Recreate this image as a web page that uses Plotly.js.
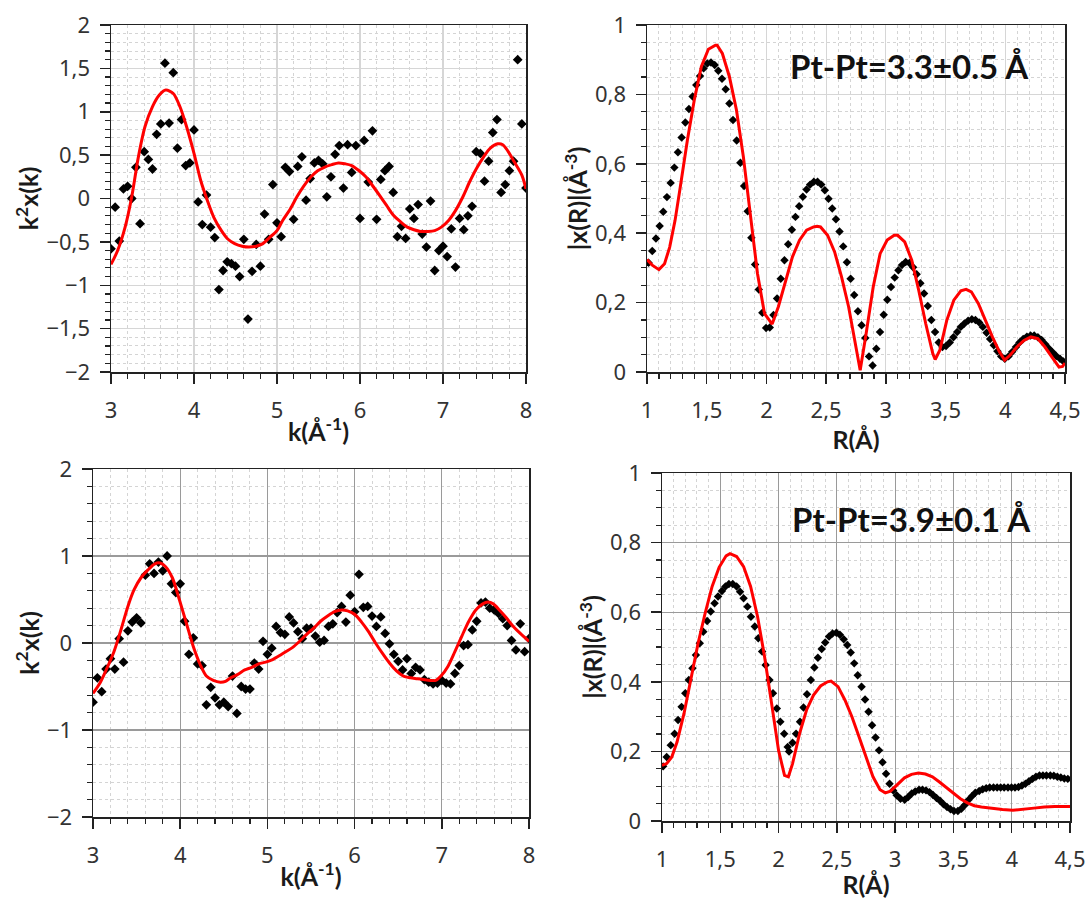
<!DOCTYPE html>
<html>
<head>
<meta charset="utf-8">
<script src="https://cdn.plot.ly/plotly-3.0.1.min.js"></script>
<style>
  html, body { margin: 0; padding: 0; background: #ffffff; }
  #chart { width: 1090px; height: 899px; }
</style>
</head>
<body>
<div id="chart"></div>
<script>
// ---------- Panel 1 (top-left): k-space, sample A ----------
const p1DataK = [3.00,3.05,3.10,3.15,3.20,3.25,3.30,3.35,3.40,3.45,3.50,3.55,3.60,3.65,3.70,3.75,3.80,3.85,3.90,3.95,
  4.00,4.05,4.10,4.15,4.20,4.25,4.30,4.35,4.40,4.45,4.50,4.55,4.60,4.65,4.70,4.75,4.80,4.85,4.90,4.95,
  5.00,5.05,5.10,5.15,5.20,5.25,5.30,5.35,5.40,5.45,5.50,5.55,5.60,5.65,5.70,5.75,5.80,5.85,5.90,5.95,
  6.00,6.05,6.10,6.15,6.20,6.25,6.30,6.35,6.40,6.45,6.50,6.55,6.60,6.65,6.70,6.75,6.80,6.85,6.90,6.95,
  7.00,7.05,7.10,7.15,7.20,7.25,7.30,7.35,7.40,7.45,7.50,7.55,7.60,7.65,7.70,7.75,7.80,7.85,7.90,7.95,8.00];
const p1DataY = [-0.58,-0.10,-0.49,0.11,0.14,0.00,0.36,-0.29,0.54,0.45,0.34,0.74,0.86,1.56,0.87,1.45,0.58,0.91,0.38,0.41,
  0.79,-0.04,-0.30,0.04,-0.33,-0.45,-1.05,-0.83,-0.73,-0.75,-0.78,-0.90,-0.47,-1.39,-0.84,-0.53,-0.78,-0.18,-0.47,0.16,
  -0.28,-0.44,0.36,0.31,-0.24,0.37,0.48,-0.02,0.23,0.41,0.44,0.40,0.02,0.25,0.51,0.61,0.12,0.62,0.30,0.61,
  -0.23,0.67,0.19,0.78,-0.24,0.22,0.32,0.37,0.07,-0.44,-0.32,-0.46,-0.12,-0.23,-0.07,-0.41,-0.56,-0.03,-0.83,-0.60,
  -0.55,-0.67,-0.35,-0.79,-0.23,-0.36,-0.20,-0.09,0.54,0.52,0.20,0.43,0.76,0.91,0.07,0.16,0.32,0.43,1.60,0.86,0.12];
const p1FitK = [3.00,3.08,3.17,3.25,3.33,3.41,3.50,3.58,3.66,3.75,3.83,3.91,4.00,4.08,4.16,4.24,4.33,4.41,4.49,4.58,
  4.66,4.75,4.83,4.91,5.00,5.07,5.16,5.24,5.32,5.41,5.49,5.57,5.66,5.74,5.82,5.90,5.99,6.07,6.15,6.24,
  6.32,6.40,6.49,6.57,6.65,6.73,6.82,6.90,6.98,7.07,7.15,7.24,7.32,7.40,7.49,7.57,7.66,7.72,7.78,7.86,7.95,8.00];
const p1FitY = [-0.76,-0.60,-0.33,0.02,0.48,0.83,1.06,1.19,1.25,1.21,1.06,0.83,0.52,0.21,-0.02,-0.22,-0.37,-0.47,-0.52,-0.55,
  -0.56,-0.55,-0.52,-0.45,-0.37,-0.25,-0.12,0.02,0.14,0.25,0.32,0.36,0.39,0.41,0.40,0.38,0.32,0.25,0.15,0.03,
  -0.08,-0.19,-0.27,-0.33,-0.36,-0.38,-0.38,-0.37,-0.33,-0.25,-0.14,0.02,0.19,0.34,0.48,0.58,0.63,0.62,0.55,0.42,0.27,0.11];

// ---------- Panel 2 (top-right): R-space, sample A ----------
const p2DataR = [1.013,1.044,1.075,1.106,1.136,1.167,1.198,1.229,1.259,1.290,1.321,1.351,1.382,1.413,1.444,1.474,1.505,1.536,1.567,1.597,
  1.628,1.659,1.690,1.720,1.751,1.782,1.813,1.843,1.874,1.905,1.936,1.966,1.997,2.028,2.059,2.089,2.120,2.151,2.182,2.213,
  2.243,2.274,2.305,2.336,2.366,2.397,2.428,2.459,2.489,2.520,2.551,2.582,2.612,2.643,2.674,2.705,2.735,2.766,2.797,2.828,
  2.859,2.889,2.920,2.951,2.982,3.012,3.043,3.074,3.105,3.135,3.166,3.197,3.228,3.258,3.289,3.320,3.351,3.381,3.412,3.443,
  3.474,3.504,3.535,3.566,3.597,3.627,3.658,3.689,3.720,3.750,3.781,3.812,3.843,3.873,3.904,3.935,3.966,3.996,4.027,4.058,
  4.089,4.119,4.150,4.181,4.212,4.242,4.273,4.304,4.335,4.365,4.396,4.427,4.458,4.488];
const p2DataV = [0.315,0.349,0.385,0.421,0.462,0.504,0.545,0.589,0.633,0.676,0.719,0.758,0.794,0.827,0.853,0.875,0.889,0.892,0.885,0.868,
  0.845,0.815,0.774,0.726,0.667,0.603,0.536,0.463,0.387,0.310,0.238,0.171,0.127,0.128,0.164,0.212,0.269,0.322,0.368,0.410,
  0.447,0.478,0.505,0.526,0.540,0.548,0.548,0.540,0.524,0.499,0.471,0.440,0.405,0.362,0.316,0.269,0.222,0.175,0.135,0.098,
  0.045,0.019,0.067,0.115,0.165,0.208,0.245,0.272,0.293,0.308,0.317,0.314,0.302,0.282,0.256,0.226,0.190,0.150,0.115,0.085,
  0.072,0.075,0.085,0.100,0.115,0.130,0.140,0.148,0.152,0.150,0.143,0.130,0.113,0.095,0.077,0.060,0.045,0.038,0.045,0.058,
  0.072,0.085,0.095,0.102,0.105,0.105,0.100,0.092,0.080,0.068,0.057,0.046,0.038,0.030];
const p2FitR = [1.000,1.044,1.100,1.147,1.190,1.235,1.279,1.338,1.396,1.455,1.514,1.573,1.587,1.631,1.690,1.749,1.807,1.866,1.925,1.984,
  2.048,2.100,2.160,2.218,2.277,2.336,2.395,2.424,2.453,2.512,2.571,2.629,2.688,2.747,2.785,2.835,2.894,2.952,3.011,3.070,
  3.099,3.158,3.217,3.275,3.334,3.393,3.413,3.452,3.510,3.569,3.628,3.672,3.716,3.775,3.833,3.892,3.951,3.995,4.039,4.097,
  4.156,4.215,4.273,4.332,4.391,4.450,4.480,4.500];
const p2FitV = [0.324,0.308,0.295,0.312,0.360,0.437,0.534,0.668,0.784,0.880,0.930,0.942,0.942,0.918,0.851,0.755,0.620,0.457,0.284,0.168,
  0.138,0.188,0.264,0.332,0.380,0.409,0.418,0.420,0.418,0.394,0.346,0.274,0.188,0.082,0.005,0.111,0.245,0.341,0.380,0.394,
  0.394,0.375,0.322,0.236,0.139,0.053,0.036,0.063,0.149,0.207,0.234,0.238,0.231,0.197,0.149,0.101,0.058,0.034,0.048,0.072,
  0.091,0.101,0.096,0.072,0.043,0.014,0.016,0.026];

// ---------- Panel 3 (bottom-left): k-space, sample B ----------
const p3DataK = p1DataK.slice();
const p3DataY = [-0.68,-0.40,-0.56,-0.30,-0.18,-0.30,0.05,-0.22,0.14,0.24,0.29,0.23,0.78,0.91,0.80,0.93,0.83,1.00,0.68,0.58,
  0.68,0.25,-0.13,0.06,-0.24,-0.26,-0.71,-0.51,-0.63,-0.71,-0.68,-0.73,-0.38,-0.81,-0.50,-0.53,-0.53,-0.23,-0.30,0.02,
  -0.13,-0.06,0.19,0.12,0.10,0.30,0.23,0.13,0.05,0.17,0.17,0.08,0.01,0.03,0.19,0.22,0.35,0.42,0.24,0.55,
  0.36,0.79,0.41,0.42,0.31,0.19,0.30,0.11,-0.01,-0.13,-0.21,-0.31,-0.18,-0.35,-0.28,-0.31,-0.42,-0.45,-0.47,-0.46,
  -0.43,-0.46,-0.47,-0.35,-0.26,-0.03,-0.02,0.15,0.25,0.46,0.47,0.40,0.38,0.34,0.28,0.20,0.03,-0.08,0.22,-0.10,0.05];
const p3FitK = [3.00,3.08,3.16,3.24,3.32,3.40,3.47,3.55,3.63,3.71,3.77,3.83,3.91,3.99,4.07,4.15,4.23,4.30,4.38,4.46,
  4.52,4.58,4.66,4.74,4.82,4.90,4.98,5.06,5.13,5.21,5.29,5.37,5.45,5.53,5.61,5.69,5.77,5.85,5.92,6.00,
  6.08,6.16,6.24,6.32,6.40,6.48,6.56,6.64,6.72,6.79,6.87,6.93,6.99,7.07,7.15,7.23,7.31,7.39,7.47,7.53,
  7.59,7.66,7.74,7.82,7.90,8.00];
const p3FitY = [-0.58,-0.46,-0.29,-0.10,0.15,0.42,0.61,0.75,0.84,0.91,0.92,0.88,0.75,0.50,0.23,-0.04,-0.25,-0.38,-0.43,-0.45,
  -0.44,-0.40,-0.36,-0.31,-0.28,-0.24,-0.22,-0.19,-0.15,-0.10,-0.05,0.02,0.10,0.17,0.25,0.31,0.36,0.38,0.37,0.33,
  0.24,0.13,0.00,-0.12,-0.23,-0.32,-0.38,-0.40,-0.41,-0.42,-0.43,-0.43,-0.38,-0.27,-0.10,0.08,0.25,0.38,0.45,0.47,
  0.45,0.38,0.29,0.19,0.11,0.02];

// ---------- Panel 4 (bottom-right): R-space, sample B ----------
const p4DataR = [1.010,1.040,1.075,1.108,1.138,1.168,1.200,1.230,1.261,1.291,1.324,1.354,1.387,1.418,1.451,1.481,1.514,1.544,1.574,1.607,
  1.640,1.670,1.700,1.733,1.763,1.796,1.826,1.859,1.889,1.922,1.952,1.985,2.015,2.048,2.078,2.090,2.120,2.150,2.184,2.214,
  2.244,2.277,2.307,2.337,2.370,2.400,2.433,2.463,2.496,2.526,2.559,2.589,2.619,2.649,2.679,2.712,2.742,2.772,2.802,2.832,
  2.862,2.892,2.922,2.952,2.983,3.013,3.046,3.082,3.112,3.142,3.172,3.205,3.235,3.265,3.295,3.325,3.355,3.385,3.415,3.445,
  3.475,3.505,3.538,3.568,3.598,3.628,3.658,3.688,3.721,3.751,3.781,3.811,3.844,3.875,3.905,3.935,3.968,3.998,4.028,4.058,
  4.088,4.118,4.148,4.178,4.208,4.238,4.268,4.298,4.331,4.361,4.391,4.421,4.451,4.481];
const p4DataV = [0.157,0.184,0.218,0.251,0.290,0.328,0.367,0.405,0.439,0.477,0.511,0.544,0.575,0.602,0.626,0.645,0.661,0.674,0.681,0.681,
  0.674,0.659,0.640,0.616,0.587,0.559,0.525,0.487,0.448,0.405,0.367,0.323,0.285,0.251,0.213,0.200,0.225,0.251,0.285,0.326,
  0.364,0.405,0.441,0.469,0.494,0.513,0.530,0.539,0.541,0.535,0.522,0.506,0.484,0.453,0.419,0.386,0.349,0.314,0.275,0.240,
  0.203,0.169,0.136,0.107,0.088,0.074,0.064,0.061,0.069,0.079,0.085,0.090,0.090,0.088,0.083,0.075,0.066,0.058,0.048,0.040,
  0.034,0.029,0.029,0.035,0.046,0.060,0.071,0.081,0.086,0.091,0.094,0.096,0.096,0.096,0.096,0.096,0.096,0.096,0.096,0.098,
  0.102,0.107,0.114,0.121,0.127,0.131,0.131,0.131,0.131,0.130,0.127,0.125,0.122,0.121];
const p4FitR = [1.000,1.040,1.084,1.129,1.189,1.249,1.309,1.370,1.430,1.490,1.550,1.583,1.640,1.700,1.760,1.820,1.880,1.940,2.000,2.051,
  2.084,2.120,2.180,2.240,2.300,2.360,2.420,2.450,2.510,2.570,2.630,2.690,2.750,2.810,2.870,2.916,2.960,3.020,3.080,3.140,
  3.200,3.260,3.320,3.380,3.440,3.500,3.560,3.620,3.680,3.740,3.830,3.920,4.010,4.100,4.190,4.280,4.370,4.500];
const p4FitV = [0.160,0.165,0.184,0.227,0.309,0.415,0.510,0.597,0.674,0.729,0.762,0.768,0.760,0.731,0.674,0.587,0.472,0.338,0.203,0.131,
  0.127,0.165,0.251,0.319,0.362,0.388,0.400,0.402,0.386,0.347,0.299,0.242,0.184,0.127,0.090,0.081,0.086,0.106,0.124,0.134,
  0.138,0.135,0.127,0.112,0.096,0.079,0.064,0.052,0.044,0.040,0.036,0.033,0.031,0.033,0.037,0.040,0.042,0.042];

// ---------- Text ----------
const kTitle = '<b>k(Å<sup>-1</sup>)</b>';
const kYTitle = '<b>k<sup>2</sup>x(k)</b>';
const rTitle = '<b>R(Å)</b>';
const rYTitle = '<b>|x(R)|(Å<sup>-3</sup>)</b>';
const noteA = '<b>Pt-Pt=3.3±0.5 Å</b>';
const noteB = '<b>Pt-Pt=3.9±0.1 Å</b>';

// ---------- Styling helpers ----------
const W = 1090, H = 899;
const titleFont = {family: 'Lato, "Open Sans", sans-serif', size: 25, color: '#1a1a1a'};
const tickFont = {family: '"Noto Sans", "Open Sans", sans-serif', size: 22, color: '#333333'};

function dom(a, b, total) { return [a / total, b / total]; }
function ydom(top, bottom) { return [1 - bottom / H, 1 - top / H]; }

function axis(o) {
  return {
    domain: o.domain, anchor: o.anchor, range: o.range, autorange: false,
    tick0: o.tick0, dtick: o.dtick,
    showline: true, linecolor: '#222222', linewidth: 1.5, mirror: true,
    ticks: 'outside', ticklen: 10, tickwidth: 1.5, tickcolor: '#222222',
    ticklabelstandoff: o.labelGap,
    showgrid: true, gridcolor: o.gridColor, gridwidth: 1.2, zeroline: false,
    tickfont: tickFont,
    minor: {dtick: o.minor, tick0: o.tick0, ticks: 'outside', ticklen: 5, tickwidth: 1.2, tickcolor: '#222222',
            showgrid: true, gridcolor: '#d4d4d4', griddash: 'dot', gridwidth: 1},
    title: {text: o.title, font: titleFont, standoff: o.standoff}
  };
}

const lightGrid = '#d6d6d6';
const darkGrid = '#9a9a9a';

const markerStyle = {symbol: 'diamond', size: 7.5, color: '#000000'};
const markerSmall = {symbol: 'diamond', size: 6.5, color: '#000000'};
const fitLine = {color: '#ff0000', width: 3};

const traces = [
  {x: p1DataK, y: p1DataY, xaxis: 'x', yaxis: 'y', mode: 'markers', marker: markerStyle, name: 'data A (k)'},
  {x: p1FitK, y: p1FitY, xaxis: 'x', yaxis: 'y', mode: 'lines', line: Object.assign({shape: 'spline', smoothing: 0.8}, fitLine), name: 'fit A (k)'},
  {x: p2DataR, y: p2DataV, xaxis: 'x2', yaxis: 'y2', mode: 'markers', marker: markerSmall, name: 'data A (R)'},
  {x: p2FitR, y: p2FitV, xaxis: 'x2', yaxis: 'y2', mode: 'lines', line: fitLine, name: 'fit A (R)'},
  {x: p3DataK, y: p3DataY, xaxis: 'x3', yaxis: 'y3', mode: 'markers', marker: markerStyle, name: 'data B (k)'},
  {x: p3FitK, y: p3FitY, xaxis: 'x3', yaxis: 'y3', mode: 'lines', line: Object.assign({shape: 'spline', smoothing: 0.8}, fitLine), name: 'fit B (k)'},
  {x: p4DataR, y: p4DataV, xaxis: 'x4', yaxis: 'y4', mode: 'markers', marker: markerSmall, name: 'data B (R)'},
  {x: p4FitR, y: p4FitV, xaxis: 'x4', yaxis: 'y4', mode: 'lines', line: fitLine, name: 'fit B (R)'}
];

const layout = {
  width: W, height: H,
  margin: {l: 0, r: 0, t: 0, b: 0},
  paper_bgcolor: '#ffffff', plot_bgcolor: '#ffffff',
  showlegend: false,
  separators: ',.',
  font: tickFont,
  xaxis:  axis({domain: dom(111, 526, W), anchor: 'y',  range: [3, 8],   tick0: 3, dtick: 1,   minor: 0.2, gridColor: lightGrid, title: kTitle, standoff: 0, labelGap: 8}),
  yaxis:  axis({domain: ydom(25, 372),   anchor: 'x',  range: [-2, 2],  tick0: 0, dtick: 0.5, minor: 0.1, gridColor: lightGrid, title: kYTitle, standoff: 0, labelGap: 5}),
  xaxis2: axis({domain: dom(647, 1065, W), anchor: 'y2', range: [1, 4.5], tick0: 1, dtick: 0.5, minor: 0.1, gridColor: lightGrid, title: rTitle, standoff: 0, labelGap: 8}),
  yaxis2: axis({domain: ydom(25, 372),    anchor: 'x2', range: [0, 1],   tick0: 0, dtick: 0.2, minor: 0.05, gridColor: lightGrid, title: rYTitle, standoff: 0, labelGap: 5}),
  xaxis3: axis({domain: dom(93, 529, W),  anchor: 'y3', range: [3, 8],   tick0: 3, dtick: 1,   minor: 0.2, gridColor: darkGrid, title: kTitle, standoff: 0, labelGap: 8}),
  yaxis3: axis({domain: ydom(469, 817),   anchor: 'x3', range: [-2, 2],  tick0: 0, dtick: 1,   minor: 0.2, gridColor: darkGrid, title: kYTitle, standoff: 0, labelGap: 5}),
  xaxis4: axis({domain: dom(662, 1070, W), anchor: 'y4', range: [1, 4.5], tick0: 1, dtick: 0.5, minor: 0.1, gridColor: darkGrid, title: rTitle, standoff: 0, labelGap: 8}),
  yaxis4: axis({domain: ydom(473, 821),   anchor: 'x4', range: [0, 1],   tick0: 0, dtick: 0.2, minor: 0.05, gridColor: darkGrid, title: rYTitle, standoff: 0, labelGap: 5}),
  annotations: [
    {text: noteA, xref: 'paper', yref: 'paper', x: 909 / W, y: 1 - 66 / H, showarrow: false, xanchor: 'center', yanchor: 'middle',
     font: {family: 'Lato, "Open Sans", sans-serif', size: 33, color: '#111111'}},
    {text: noteB, xref: 'paper', yref: 'paper', x: 911 / W, y: 1 - 519 / H, showarrow: false, xanchor: 'center', yanchor: 'middle',
     font: {family: 'Lato, "Open Sans", sans-serif', size: 33, color: '#111111'}}
  ]
};

Plotly.newPlot('chart', traces, layout, {staticPlot: true, displayModeBar: false});
</script>
</body>
</html>
